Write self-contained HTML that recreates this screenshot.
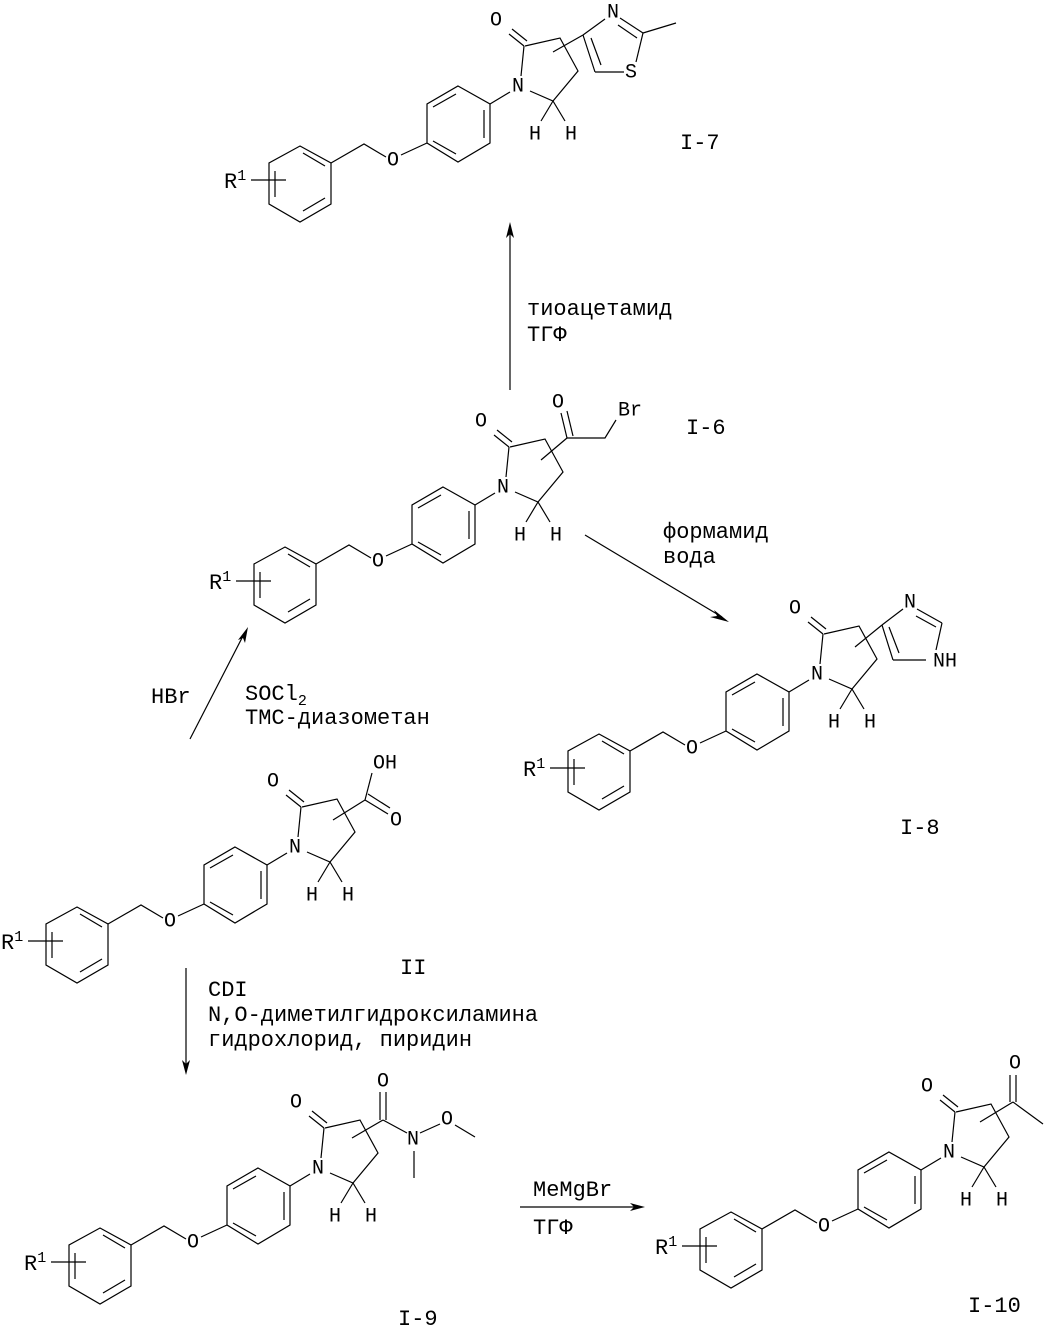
<!DOCTYPE html>
<html><head><meta charset="utf-8"><style>
html,body{margin:0;padding:0;background:#fff;}
svg{display:block;}
line,polyline,polygon{stroke:#000;stroke-width:1.2;fill:none;}
text{font-family:"Liberation Mono","DejaVu Sans Mono",monospace;font-size:22px;fill:#000;}
.a{font-size:20px;text-anchor:middle;dominant-baseline:central;}
.ah{fill:#000;stroke:none;}
</style></head><body>
<svg width="1054" height="1333" viewBox="0 0 1054 1333" xmlns="http://www.w3.org/2000/svg">
<defs></defs>

<!-- II -->
<g transform="translate(0,0)">
<polygon points="77,907 108,924 108,965 77,983 46,965 46,924"/>
<line x1="80" y1="914" x2="102" y2="927"/><line x1="102" y1="959" x2="80" y2="972"/><line x1="52" y1="932" x2="52" y2="958"/>
<line x1="28" y1="941" x2="63" y2="941"/>
<text x="1" y="949">R<tspan font-size="15" dy="-8">1</tspan></text>
<polyline points="108,924 141,905 163,918"/>
<text class="a" x="170" y="922">O</text>
<line x1="178" y1="916" x2="204" y2="904"/>
<polygon points="235,847 267,865 267,904 235,923 204,904 204,865"/>
<line x1="210" y1="868" x2="233" y2="855"/><line x1="261" y1="871" x2="261" y2="899"/><line x1="210" y1="902" x2="233" y2="915"/>
<line x1="267" y1="865" x2="287" y2="853"/>
<text class="a" x="295" y="848">N</text>
<line x1="298" y1="837" x2="301" y2="807"/>
<line x1="301" y1="807" x2="286" y2="795"/><line x1="304" y1="802" x2="289" y2="790"/>
<text class="a" x="273" y="782">O</text>
<polyline points="302,807 337,799 355,832 330,862 307,852"/>
<line x1="330" y1="862" x2="318" y2="882"/><line x1="330" y1="862" x2="342" y2="882"/>
<text class="a" x="312" y="896">H</text><text class="a" x="348" y="896">H</text>
</g>
<line x1="333" y1="820" x2="365" y2="800"/>
<line x1="365" y1="800" x2="372" y2="773"/>
<text class="a" x="385" y="764">OH</text>
<line x1="365" y1="800" x2="388" y2="814"/><line x1="368" y1="794" x2="390" y2="808"/>
<text class="a" x="396" y="821">O</text>

<!-- I-7 -->
<g transform="translate(223,-761)">
<polygon points="77,907 108,924 108,965 77,983 46,965 46,924"/>
<line x1="80" y1="914" x2="102" y2="927"/><line x1="102" y1="959" x2="80" y2="972"/><line x1="52" y1="932" x2="52" y2="958"/>
<line x1="28" y1="941" x2="63" y2="941"/>
<text x="1" y="949">R<tspan font-size="15" dy="-8">1</tspan></text>
<polyline points="108,924 141,905 163,918"/>
<text class="a" x="170" y="922">O</text>
<line x1="178" y1="916" x2="204" y2="904"/>
<polygon points="235,847 267,865 267,904 235,923 204,904 204,865"/>
<line x1="210" y1="868" x2="233" y2="855"/><line x1="261" y1="871" x2="261" y2="899"/><line x1="210" y1="902" x2="233" y2="915"/>
<line x1="267" y1="865" x2="287" y2="853"/>
<text class="a" x="295" y="848">N</text>
<line x1="298" y1="837" x2="301" y2="807"/>
<line x1="301" y1="807" x2="286" y2="795"/><line x1="304" y1="802" x2="289" y2="790"/>
<text class="a" x="273" y="782">O</text>
<polyline points="302,807 337,799 355,832 330,862 307,852"/>
<line x1="330" y1="862" x2="318" y2="882"/><line x1="330" y1="862" x2="342" y2="882"/>
<text class="a" x="312" y="896">H</text><text class="a" x="348" y="896">H</text>
</g>
<line x1="553" y1="52" x2="583" y2="35"/>
<line x1="583" y1="35" x2="605" y2="19"/>
<text class="a" x="613" y="13">N</text>
<line x1="620" y1="18" x2="643" y2="33"/><line x1="618" y1="25" x2="637" y2="38"/>
<line x1="643" y1="33" x2="676" y2="23"/>
<line x1="643" y1="33" x2="636" y2="62"/>
<text class="a" x="631" y="73">S</text>
<line x1="624" y1="72" x2="595" y2="72"/>
<line x1="595" y1="72" x2="583" y2="35"/><line x1="601" y1="65" x2="591" y2="38"/>
<text x="680" y="149">I-7</text>

<!-- arrow up to I-7 -->
<line x1="510" y1="390" x2="510" y2="230"/>
<polygon class="ah" points="510,222 506,238 510,234 514,238"/>
<text x="527" y="315">тиоацетамид</text>
<text x="527" y="341">ТГФ</text>

<!-- I-6 -->
<g transform="translate(208,-360)">
<polygon points="77,907 108,924 108,965 77,983 46,965 46,924"/>
<line x1="80" y1="914" x2="102" y2="927"/><line x1="102" y1="959" x2="80" y2="972"/><line x1="52" y1="932" x2="52" y2="958"/>
<line x1="28" y1="941" x2="63" y2="941"/>
<text x="1" y="949">R<tspan font-size="15" dy="-8">1</tspan></text>
<polyline points="108,924 141,905 163,918"/>
<text class="a" x="170" y="922">O</text>
<line x1="178" y1="916" x2="204" y2="904"/>
<polygon points="235,847 267,865 267,904 235,923 204,904 204,865"/>
<line x1="210" y1="868" x2="233" y2="855"/><line x1="261" y1="871" x2="261" y2="899"/><line x1="210" y1="902" x2="233" y2="915"/>
<line x1="267" y1="865" x2="287" y2="853"/>
<text class="a" x="295" y="848">N</text>
<line x1="298" y1="837" x2="301" y2="807"/>
<line x1="301" y1="807" x2="286" y2="795"/><line x1="304" y1="802" x2="289" y2="790"/>
<text class="a" x="273" y="782">O</text>
<polyline points="302,807 337,799 355,832 330,862 307,852"/>
<line x1="330" y1="862" x2="318" y2="882"/><line x1="330" y1="862" x2="342" y2="882"/>
<text class="a" x="312" y="896">H</text><text class="a" x="348" y="896">H</text>
</g>
<line x1="541" y1="460" x2="567" y2="438"/>
<line x1="567" y1="438" x2="561" y2="413"/><line x1="573" y1="436" x2="567" y2="411"/>
<text class="a" x="558" y="403">O</text>
<polyline points="567,438 605,438 616,420"/>
<text class="a" x="630" y="411">Br</text>
<text x="686" y="434">I-6</text>

<!-- arrow to I-8 -->
<line x1="585" y1="535" x2="722" y2="617"/>
<polygon class="ah" points="729,622 714,610 717,616 710,617"/>
<text x="663" y="538">формамид</text>
<text x="663" y="563">вода</text>

<!-- I-8 -->
<g transform="translate(522,-173)">
<polygon points="77,907 108,924 108,965 77,983 46,965 46,924"/>
<line x1="80" y1="914" x2="102" y2="927"/><line x1="102" y1="959" x2="80" y2="972"/><line x1="52" y1="932" x2="52" y2="958"/>
<line x1="28" y1="941" x2="63" y2="941"/>
<text x="1" y="949">R<tspan font-size="15" dy="-8">1</tspan></text>
<polyline points="108,924 141,905 163,918"/>
<text class="a" x="170" y="922">O</text>
<line x1="178" y1="916" x2="204" y2="904"/>
<polygon points="235,847 267,865 267,904 235,923 204,904 204,865"/>
<line x1="210" y1="868" x2="233" y2="855"/><line x1="261" y1="871" x2="261" y2="899"/><line x1="210" y1="902" x2="233" y2="915"/>
<line x1="267" y1="865" x2="287" y2="853"/>
<text class="a" x="295" y="848">N</text>
<line x1="298" y1="837" x2="301" y2="807"/>
<line x1="301" y1="807" x2="286" y2="795"/><line x1="304" y1="802" x2="289" y2="790"/>
<text class="a" x="273" y="782">O</text>
<polyline points="302,807 337,799 355,832 330,862 307,852"/>
<line x1="330" y1="862" x2="318" y2="882"/><line x1="330" y1="862" x2="342" y2="882"/>
<text class="a" x="312" y="896">H</text><text class="a" x="348" y="896">H</text>
</g>
<line x1="855" y1="647" x2="882" y2="625"/>
<line x1="882" y1="625" x2="903" y2="609"/>
<text class="a" x="910" y="603">N</text>
<line x1="917" y1="609" x2="942" y2="623"/><line x1="916" y1="616" x2="936" y2="627"/>
<line x1="942" y1="623" x2="936" y2="650"/>
<text class="a" x="945" y="662">NH</text>
<line x1="926" y1="660" x2="893" y2="660"/>
<line x1="893" y1="660" x2="882" y2="625"/><line x1="899" y1="653" x2="889" y2="627"/>
<text x="900" y="834">I-8</text>

<!-- arrow II -> I-6 -->
<line x1="190" y1="739" x2="244" y2="634"/>
<polygon class="ah" points="248,627 238,640 243,638 245,643"/>
<text x="151" y="703">HBr</text>
<text x="245" y="700">SOCl<tspan font-size="15" dy="5">2</tspan></text>
<text x="245" y="724">ТМС-диазометан</text>

<text x="400" y="974">II</text>

<!-- arrow down to I-9 -->
<line x1="186" y1="968" x2="186" y2="1068"/>
<polygon class="ah" points="186,1075 182,1060 186,1064 190,1060"/>
<text x="208" y="996">CDI</text>
<text x="208" y="1021">N,O-диметилгидроксиламина</text>
<text x="208" y="1046">гидрохлорид, пиридин</text>

<!-- I-9 -->
<g transform="translate(23,321)">
<polygon points="77,907 108,924 108,965 77,983 46,965 46,924"/>
<line x1="80" y1="914" x2="102" y2="927"/><line x1="102" y1="959" x2="80" y2="972"/><line x1="52" y1="932" x2="52" y2="958"/>
<line x1="28" y1="941" x2="63" y2="941"/>
<text x="1" y="949">R<tspan font-size="15" dy="-8">1</tspan></text>
<polyline points="108,924 141,905 163,918"/>
<text class="a" x="170" y="922">O</text>
<line x1="178" y1="916" x2="204" y2="904"/>
<polygon points="235,847 267,865 267,904 235,923 204,904 204,865"/>
<line x1="210" y1="868" x2="233" y2="855"/><line x1="261" y1="871" x2="261" y2="899"/><line x1="210" y1="902" x2="233" y2="915"/>
<line x1="267" y1="865" x2="287" y2="853"/>
<text class="a" x="295" y="848">N</text>
<line x1="298" y1="837" x2="301" y2="807"/>
<line x1="301" y1="807" x2="286" y2="795"/><line x1="304" y1="802" x2="289" y2="790"/>
<text class="a" x="273" y="782">O</text>
<polyline points="302,807 337,799 355,832 330,862 307,852"/>
<line x1="330" y1="862" x2="318" y2="882"/><line x1="330" y1="862" x2="342" y2="882"/>
<text class="a" x="312" y="896">H</text><text class="a" x="348" y="896">H</text>
</g>
<line x1="352" y1="1138" x2="383" y2="1120"/>
<line x1="380" y1="1120" x2="380" y2="1092"/><line x1="386" y1="1120" x2="386" y2="1092"/>
<text class="a" x="383" y="1082">O</text>
<line x1="383" y1="1120" x2="407" y2="1133"/>
<text class="a" x="413" y="1140">N</text>
<line x1="414" y1="1151" x2="414" y2="1178"/>
<line x1="420" y1="1133" x2="440" y2="1124"/>
<text class="a" x="447" y="1120">O</text>
<line x1="455" y1="1125" x2="475" y2="1137"/>
<text x="398" y="1325">I-9</text>

<!-- arrow to I-10 -->
<line x1="520" y1="1207" x2="638" y2="1207"/>
<polygon class="ah" points="645,1207 630,1203 634,1207 630,1211"/>
<text x="533" y="1196">MeMgBr</text>
<text x="533" y="1234">ТГФ</text>

<!-- I-10 -->
<g transform="translate(654,305)">
<polygon points="77,907 108,924 108,965 77,983 46,965 46,924"/>
<line x1="80" y1="914" x2="102" y2="927"/><line x1="102" y1="959" x2="80" y2="972"/><line x1="52" y1="932" x2="52" y2="958"/>
<line x1="28" y1="941" x2="63" y2="941"/>
<text x="1" y="949">R<tspan font-size="15" dy="-8">1</tspan></text>
<polyline points="108,924 141,905 163,918"/>
<text class="a" x="170" y="922">O</text>
<line x1="178" y1="916" x2="204" y2="904"/>
<polygon points="235,847 267,865 267,904 235,923 204,904 204,865"/>
<line x1="210" y1="868" x2="233" y2="855"/><line x1="261" y1="871" x2="261" y2="899"/><line x1="210" y1="902" x2="233" y2="915"/>
<line x1="267" y1="865" x2="287" y2="853"/>
<text class="a" x="295" y="848">N</text>
<line x1="298" y1="837" x2="301" y2="807"/>
<line x1="301" y1="807" x2="286" y2="795"/><line x1="304" y1="802" x2="289" y2="790"/>
<text class="a" x="273" y="782">O</text>
<polyline points="302,807 337,799 355,832 330,862 307,852"/>
<line x1="330" y1="862" x2="318" y2="882"/><line x1="330" y1="862" x2="342" y2="882"/>
<text class="a" x="312" y="896">H</text><text class="a" x="348" y="896">H</text>
</g>
<line x1="980" y1="1122" x2="1013" y2="1102"/>
<line x1="1010" y1="1102" x2="1010" y2="1075"/><line x1="1016" y1="1102" x2="1016" y2="1075"/>
<text class="a" x="1015" y="1064">O</text>
<line x1="1013" y1="1102" x2="1043" y2="1124"/>
<text x="968" y="1312">I-10</text>

</svg>
</body></html>
